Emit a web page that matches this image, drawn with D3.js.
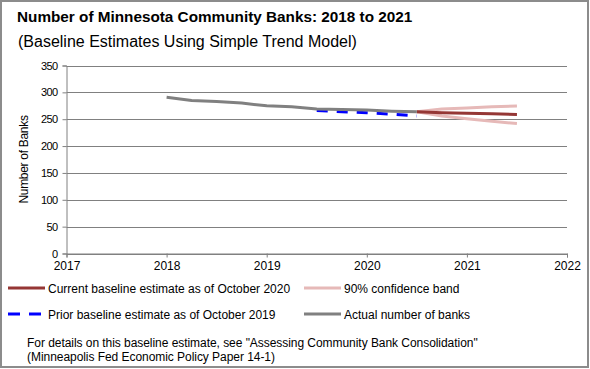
<!DOCTYPE html>
<html><head><meta charset="utf-8">
<script src="https://cdn.jsdelivr.net/npm/d3@7"></script>
<style>
body{margin:0;background:#fff;}
svg text{font-family:Arial,"Liberation Sans",sans-serif;fill:#000;}
</style></head>
<body><svg id="c" width="590" height="369"></svg>
<script>
const title = "Number of Minnesota Community Banks: 2018 to 2021";
const subtitle = "(Baseline Estimates Using Simple Trend Model)";
const yTitle = "Number of Banks";
const xTicks = [2017, 2018, 2019, 2020, 2021, 2022];
const yTicks = [0, 50, 100, 150, 200, 250, 300, 350];

const actualDates = [2018, 2018.25, 2018.5, 2018.75, 2019, 2019.25, 2019.5, 2019.75, 2020, 2020.25, 2020.5];
const actualBanks = [291, 285, 283, 280, 275, 273, 269, 268, 267, 265, 264];
const priorDates = [2019.5, 2019.75, 2020, 2020.25, 2020.5];
const priorBanks = [266, 264, 262, 259.5, 256];
const currentDates = [2020.5, 2020.75, 2021, 2021.25, 2021.5];
const currentBanks = [264, 262, 261, 260, 259];
const upperBand = [264, 269, 271, 273, 274.5];
const lowerBand = [264, 256, 251, 246, 242];

const legendItems = ["Current baseline estimate as of October 2020", "90% confidence band",
  "Prior baseline estimate as of October 2019", "Actual number of banks"];
const noteLines = ["For details on this baseline estimate, see \"Assessing Community Bank Consolidation\"",
  "(Minneapolis Fed Economic Policy Paper 14-1)"];

const cRed = "#953735", cPink = "#E6B9B8", cBlue = "#0000FF", cGray = "#808080";

const svg = d3.select("#c");
svg.append("rect").attr("x",1).attr("y",1).attr("width",587).attr("height",366)
  .attr("fill","#fff").attr("stroke","#8c8c8c").attr("stroke-width",2);

svg.append("text").attr("x",17).attr("y",22).attr("font-size",15.3).attr("font-weight","bold").text(title);
svg.append("text").attr("x",18).attr("y",47).attr("font-size",16).text(subtitle);

const x = d3.scaleLinear().domain([2017, 2022]).range([66.5, 567]);
const y = d3.scaleLinear().domain([0, 350]).range([253.5, 65.5]);

// gridlines
svg.append("g").selectAll("line").data(yTicks).join("line")
  .attr("x1", x(2017)).attr("x2", x(2022))
  .attr("y1", d => Math.round(y(d)) + 0.5).attr("y2", d => Math.round(y(d)) + 0.5)
  .attr("stroke", cGray).attr("stroke-width", 1);

const yAxis = svg.append("g").attr("transform", `translate(${x(2017)},0)`)
  .call(d3.axisLeft(y).tickValues(yTicks).tickSize(4).tickPadding(5).tickFormat(d3.format("d")));
yAxis.selectAll("text").attr("font-size", 11).attr("letter-spacing", -0.6).attr("fill", "#000");
yAxis.selectAll("line,path").attr("stroke", cGray);

const xAxis = svg.append("g").attr("transform", `translate(0,${y(0)})`)
  .call(d3.axisBottom(x).tickValues(xTicks).tickSize(4).tickPadding(4).tickFormat(d3.format("d")));
xAxis.selectAll("text").attr("font-size", 12).attr("fill", "#000");
xAxis.selectAll("line,path").attr("stroke", cGray);
svg.selectAll(".domain").attr("stroke", cGray);

svg.append("text").attr("transform", `translate(28,${(y(0)+y(350))/2}) rotate(-90)`)
  .attr("text-anchor","middle").attr("font-size",12).attr("letter-spacing",-0.3).text(yTitle);

const line = d3.line().x(d => x(d[0])).y(d => y(d[1]));
const zip = (a, b) => a.map((v, i) => [v, b[i]]);

svg.append("path").datum(zip(currentDates, upperBand)).attr("d", line)
  .attr("fill","none").attr("stroke",cPink).attr("stroke-width",3);
svg.append("path").datum(zip(currentDates, lowerBand)).attr("d", line)
  .attr("fill","none").attr("stroke",cPink).attr("stroke-width",3);
svg.append("path").datum(zip(currentDates, currentBanks)).attr("d", line)
  .attr("fill","none").attr("stroke",cRed).attr("stroke-width",3);
svg.append("path").datum(zip(priorDates, priorBanks)).attr("d", line)
  .attr("fill","none").attr("stroke",cBlue).attr("stroke-width",3).attr("stroke-dasharray","11,9");
svg.append("path").datum(zip(actualDates, actualBanks)).attr("d", line)
  .attr("fill","none").attr("stroke",cGray).attr("stroke-width",3);

// legend
const lg = svg.append("g");
const legPos = [[8, 288, cRed, null], [304, 288, cPink, null], [8, 314, cBlue, "12,9"], [304, 314, cGray, null]];
legPos.forEach((p, i) => {
  lg.append("line").attr("x1", p[0]).attr("x2", p[0] + 37).attr("y1", p[1]).attr("y2", p[1])
    .attr("stroke", p[2]).attr("stroke-width", 3).attr("stroke-dasharray", p[3]);
  lg.append("text").attr("x", p[0] + 40).attr("y", p[1] + 4.5).attr("font-size", 12).text(legendItems[i]);
});
noteLines.forEach((t, i) => {
  svg.append("text").attr("x", 27).attr("y", 347 + i * 14).attr("font-size", 12)
    .attr("letter-spacing", -0.05).text(t);
});
</script></body></html>
